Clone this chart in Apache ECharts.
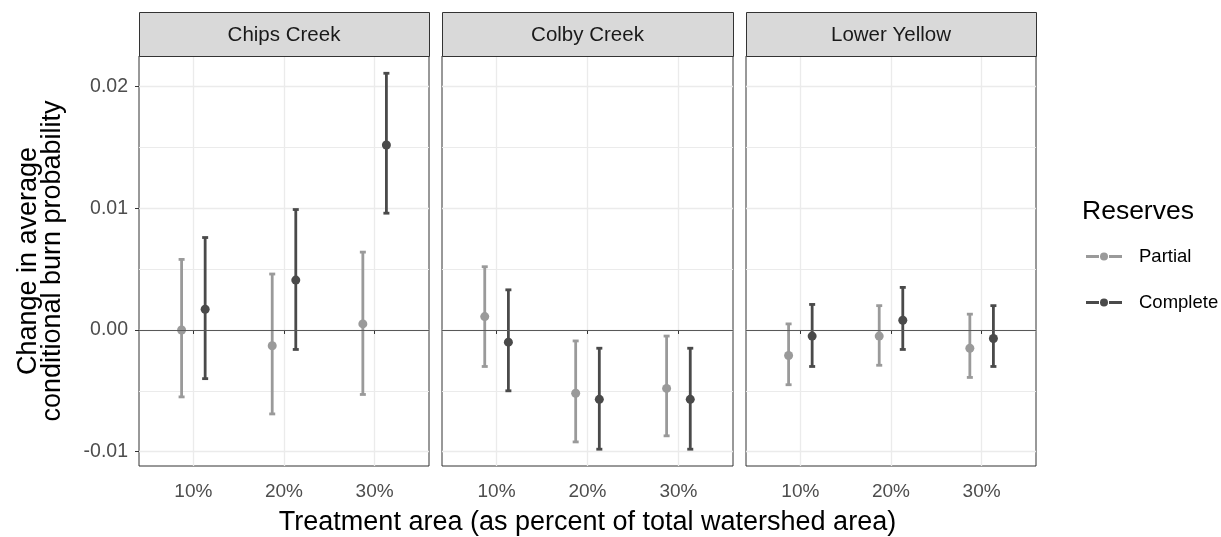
<!DOCTYPE html>
<html>
<head>
<meta charset="utf-8">
<script src="https://cdn.jsdelivr.net/npm/echarts@6/dist/echarts.min.js"></script>
<style>
html,body{margin:0;padding:0;background:#fff;}
#chart{width:1221px;height:537px;}
</style>
</head>
<body>
<div id="chart"></div>
<script>
// ---------------- data ----------------
const sites = ['Chips Creek', 'Colby Creek', 'Lower Yellow'];
const treatments = ['10%', '20%', '30%'];
const groups = ['Partial', 'Complete'];
const yMajorValues = [-0.01, 0, 0.01, 0.02];
const yMajorLabels = ['-0.01', '0.00', '0.01', '0.02'];
const yMinorValues = [-0.005, 0.005, 0.015];

// rows: site, columns: treatment
const partialMean  = [[0.0000, -0.0013, 0.0005], [0.0011, -0.0052, -0.0048], [-0.0021, -0.0005, -0.0015]];
const partialLow   = [[-0.0055, -0.0069, -0.0053], [-0.0030, -0.0092, -0.0087], [-0.0045, -0.0029, -0.0039]];
const partialHigh  = [[0.0058, 0.0046, 0.0064], [0.0052, -0.0009, -0.0005], [0.0005, 0.0020, 0.0013]];
const completeMean = [[0.0017, 0.0041, 0.0152], [-0.0010, -0.0057, -0.0057], [-0.0005, 0.0008, -0.0007]];
const completeLow  = [[-0.0040, -0.0016, 0.0096], [-0.0050, -0.0098, -0.0098], [-0.0030, -0.0016, -0.0030]];
const completeHigh = [[0.0076, 0.0099, 0.0211], [0.0033, -0.0015, -0.0015], [0.0021, 0.0035, 0.0020]];

// ---------------- layout / style ----------------
const FONT = "'Liberation Sans', Arial, sans-serif";
const panelLeft = [139, 442, 746];
const panelWidth = [290, 291, 290];
const panelTop = 56, panelHeight = 410;
const stripTop = 12, stripHeight = 44;
const yMin = -0.01118, yMax = 0.02252;
const groupColor = {Partial: '#9a9a9a', Complete: '#4a4a4a'};
const groupOffset = {Partial: -0.13, Complete: 0.13};
const legendIcon = 'path://M0,2.5L13,2.5L13,5.5L0,5.5Z M23,2.5L36,2.5L36,5.5L23,5.5Z M14,4A4,4 0 1 1 22,4A4,4 0 1 1 14,4Z';

const means = {Partial: partialMean, Complete: completeMean};
const lows = {Partial: partialLow, Complete: completeLow};
const highs = {Partial: partialHigh, Complete: completeHigh};

function makeRender(offset, color) {
  return function (params, api) {
    const x = api.value(0) + offset;
    const pm = api.coord([x, api.value(1)]);
    const pl = api.coord([x, api.value(2)]);
    const ph = api.coord([x, api.value(3)]);
    const cap = 3;
    const ls = {stroke: color, lineWidth: 2.8};
    return {
      type: 'group',
      children: [
        {type: 'line', shape: {x1: pl[0], y1: pl[1], x2: ph[0], y2: ph[1]}, style: ls},
        {type: 'line', shape: {x1: pl[0] - cap, y1: pl[1], x2: pl[0] + cap, y2: pl[1]}, style: ls},
        {type: 'line', shape: {x1: ph[0] - cap, y1: ph[1], x2: ph[0] + cap, y2: ph[1]}, style: ls},
        {type: 'circle', shape: {cx: pm[0], cy: pm[1], r: 4.5}, style: {fill: color}}
      ]
    };
  };
}

const grids = [], xAxes = [], yAxes = [], series = [], graphics = [];
sites.forEach((site, i) => {
  grids.push({left: panelLeft[i], top: panelTop, width: panelWidth[i], height: panelHeight,
    show: true, borderColor: '#333333', borderWidth: 1, backgroundColor: '#ffffff',
    containLabel: false, outerBoundsMode: 'none'});
  xAxes.push({
    type: 'value', gridIndex: i, min: 0.4, max: 3.6,
    axisLine: {show: false},
    axisTick: {show: true, customValues: [1, 2, 3], length: 4, lineStyle: {color: '#333333', width: 1}},
    axisLabel: {show: true, customValues: [1, 2, 3], margin: 16,
      formatter: v => treatments[Math.round(v) - 1], color: '#4d4d4d', fontSize: 19, fontFamily: FONT},
    splitLine: {show: true, lineStyle: {color: '#ebebeb', width: 1.3}},
    name: i === 1 ? 'Treatment area (as percent of total watershed area)' : '',
    nameLocation: 'middle', nameGap: 43,
    nameTextStyle: {color: '#000000', fontSize: 27, fontFamily: FONT}
  });
  // major y axis
  yAxes.push({
    type: 'value', gridIndex: i, min: yMin, max: yMax,
    axisLine: {show: false},
    axisTick: {show: i === 0, customValues: yMajorValues, length: 4, lineStyle: {color: '#333333', width: 1}},
    axisLabel: {show: i === 0, customValues: yMajorValues, margin: 11,
      formatter: v => yMajorLabels[yMajorValues.findIndex(m => Math.abs(m - v) < 1e-9)],
      color: '#4d4d4d', fontSize: 19.5, fontFamily: FONT},
    splitLine: {show: true, lineStyle: {color: '#ebebeb', width: 1.3}},
    name: i === 0 ? 'Change in average\nconditional burn probability' : '',
    nameLocation: 'middle', nameGap: 74, nameRotate: 90,
    nameTextStyle: {color: '#000000', fontSize: 27, lineHeight: 24, fontFamily: FONT}
  });
  // minor y axis (grid lines only)
  yAxes.push({
    type: 'value', gridIndex: i, min: yMin, max: yMax,
    axisLine: {show: false},
    axisTick: {show: false, customValues: yMinorValues},
    axisLabel: {show: false, customValues: yMinorValues},
    splitLine: {show: true, lineStyle: {color: '#ebebeb', width: 1}}
  });
  // zero reference line
  series.push({
    type: 'line', xAxisIndex: i, yAxisIndex: i * 2, data: [], silent: true, z: 1,
    markLine: {silent: true, symbol: 'none', animation: false,
      label: {show: false}, lineStyle: {color: '#595959', width: 1.2, type: 'solid'},
      data: [{yAxis: 0}]}
  });
  groups.forEach(g => {
    const data = treatments.map((t, j) => [j + 1, means[g][i][j], lows[g][i][j], highs[g][i][j]]);
    series.push({
      type: 'custom', name: g, xAxisIndex: i, yAxisIndex: i * 2, z: 3,
      itemStyle: {color: groupColor[g]},
      encode: {x: 0, y: [1, 2, 3]},
      renderItem: makeRender(groupOffset[g], groupColor[g]),
      data: data
    });
  });
  // facet strip
  graphics.push({
    type: 'rect', z: 10,
    shape: {x: panelLeft[i] + 0.5, y: stripTop + 0.5, width: panelWidth[i], height: stripHeight},
    style: {fill: '#d9d9d9', stroke: '#333333', lineWidth: 1}
  });
  graphics.push({
    type: 'text', z: 11,
    x: panelLeft[i] + panelWidth[i] / 2, y: stripTop + stripHeight / 2 + 1,
    style: {text: site, fill: '#1a1a1a', fontSize: 20.5, fontFamily: FONT, align: 'center', verticalAlign: 'middle'}
  });
});

graphics.push({
  type: 'text', z: 11, x: 1082, y: 212,
  style: {text: 'Reserves', fill: '#000000', fontSize: 26.5, fontFamily: FONT, align: 'left', verticalAlign: 'middle'}
});

const chart = echarts.init(document.getElementById('chart'), null, {renderer: 'canvas'});
chart.setOption({
  animation: false,
  backgroundColor: '#ffffff',
  grid: grids,
  xAxis: xAxes,
  yAxis: yAxes,
  legend: {
    orient: 'vertical', left: 1081, top: 242,
    itemWidth: 36, itemHeight: 8, itemGap: 27,
    data: groups.map(g => ({name: g, icon: legendIcon})),
    textStyle: {fontSize: 18.5, fontFamily: FONT, color: '#000000', padding: [0, 0, 0, 12], lineHeight: 18},
    selectedMode: false
  },
  graphic: graphics,
  series: series
});
</script>
</body>
</html>
